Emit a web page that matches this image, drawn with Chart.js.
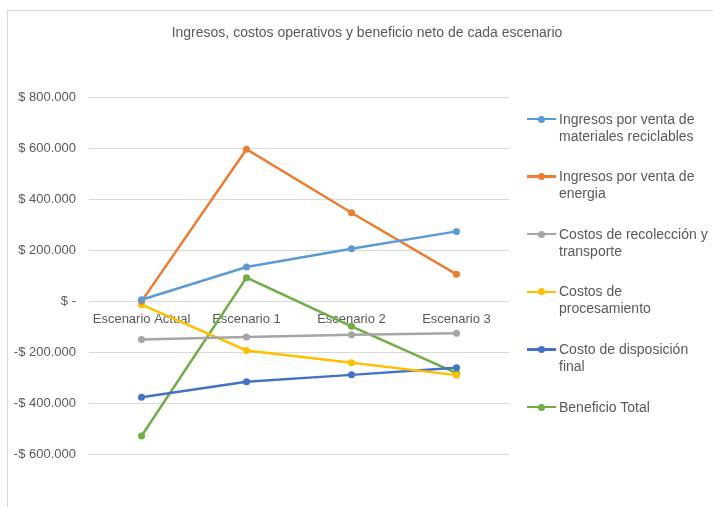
<!DOCTYPE html>
<html>
<head>
<meta charset="utf-8">
<script src="https://cdn.jsdelivr.net/npm/chart.js@4/dist/chart.umd.min.js"></script>
<style>
  html, body { margin: 0; padding: 0; background: #fff; overflow: hidden; width: 713px; height: 507px; }
  #frame { position: absolute; left: 7px; top: 10px; width: 740px; height: 520px; border: 1px solid #d9d9d9; box-sizing: border-box; }
  #wrap { position: absolute; left: 0; top: 0; width: 718px; height: 497px; }
  #legend { position: absolute; left: 0; top: 0; font-family: "Liberation Sans", Arial, sans-serif; font-size: 14px; color: #595959; }
  .item { position: absolute; left: 0; white-space: nowrap; line-height: 17px; }
  .mark { position: absolute; width: 29px; height: 2.5px; }
  .dot { position: absolute; width: 7px; height: 7px; border-radius: 50%; left: 11px; top: -2.25px; }
  .txt { position: absolute; left: 32px; top: 0; }
</style>
</head>
<body>
<div id="frame">
  <div id="wrap"><canvas id="lineChart"></canvas></div>
</div>
<div id="legend"></div>
<script>
'use strict';

// scenarios and series (values in pesos)
var categories = ['Escenario Actual', 'Escenario 1', 'Escenario 2', 'Escenario 3'];
var ingresosMateriales = [6000, 135000, 207000, 275000];
var ingresosEnergia = [0, 598000, 348000, 106000];
var costosRecoleccion = [-150000, -140000, -131000, -125000];
var costosProcesamiento = [-13000, -193000, -241000, -290000];
var costoDisposicion = [-377000, -316000, -289000, -261000];
var beneficioTotal = [-529000, 93000, -98000, -282000];

var seriesNames = [
  'Ingresos por venta de\nmateriales reciclables',
  'Ingresos por venta de\nenergia',
  'Costos de recolección y\ntransporte',
  'Costos de\nprocesamiento',
  'Costo de disposición\nfinal',
  'Beneficio Total'
];
var seriesColors = ['#5b9bd5', '#ed7d31', '#a5a5a5', '#ffc000', '#4472c4', '#70ad47'];
var yTicks = [-600000, -400000, -200000, 0, 200000, 400000, 600000, 800000];

var seriesData = [ingresosMateriales, ingresosEnergia, costosRecoleccion,
  costosProcesamiento, costoDisposicion, beneficioTotal];

var FONT = '"Liberation Sans", Arial, sans-serif';
var TEXT = '#595959';

function pesos(v) {
  if (v === 0) return '$ -';
  var s = Math.abs(v).toString().replace(/\B(?=(\d{3})+(?!\d))/g, '.');
  return (v < 0 ? '-$ ' : '$ ') + s;
}

var datasets = seriesData.map(function (d, i) {
  return {
    label: seriesNames[i].replace('\n', ' '),
    data: d,
    borderColor: seriesColors[i],
    backgroundColor: seriesColors[i],
    borderWidth: 2.5,
    pointRadius: 3.5,
    pointBorderWidth: 0,
    pointHoverRadius: 3.5,
    tension: 0
  };
});

var chart = new Chart(document.getElementById('lineChart'), {
  type: 'line',
  data: { labels: categories, datasets: datasets },
  options: {
    responsive: true,
    maintainAspectRatio: false,
    animation: false,
    layout: { padding: { left: 0, right: 0, top: 0, bottom: 54 } },
    plugins: {
      legend: { display: false },
      tooltip: { enabled: false },
      title: {
        display: true,
        text: 'Ingresos, costos operativos y beneficio neto de cada escenario',
        color: TEXT,
        font: { family: FONT, size: 14, weight: 'normal', lineHeight: 1.2 },
        padding: { top: 14, bottom: 56 }
      }
    },
    scales: {
      x: {
        position: { y: 0 },
        offset: true,
        grid: { display: false },
        border: { display: false },
        ticks: { color: TEXT, font: { family: FONT, size: 13 }, padding: 2, maxRotation: 0 }
      },
      y: {
        min: -600000,
        max: 800000,
        afterBuildTicks: function (scale) {
          scale.ticks = yTicks.map(function (v) { return { value: v }; });
        },
        afterFit: function (scale) { scale.width = 81; },
        grid: { color: '#d9d9d9', lineWidth: 1, drawTicks: false },
        border: { display: false },
        ticks: {
          color: TEXT,
          font: { family: FONT, size: 13 },
          padding: 13,
          callback: function (v) { return pesos(v); }
        }
      },
      // empty right-hand axis that keeps room for the legend
      yLegend: {
        position: 'right',
        afterFit: function (scale) { scale.width = 217; },
        grid: { display: false },
        border: { display: false },
        ticks: { display: false }
      }
    }
  }
});

// legend on the right, text wrapped on two lines
var legend = document.getElementById('legend');
seriesNames.forEach(function (name, i) {
  var item = document.createElement('div');
  item.className = 'item';
  item.style.left = '527px';
  item.style.top = (110.5 + i * 57.6) + 'px';
  var mark = document.createElement('div');
  mark.className = 'mark';
  mark.style.top = '7.25px';
  mark.style.background = seriesColors[i];
  var dot = document.createElement('div');
  dot.className = 'dot';
  dot.style.background = seriesColors[i];
  mark.appendChild(dot);
  var txt = document.createElement('div');
  txt.className = 'txt';
  txt.innerHTML = name.split('\n').join('<br>');
  item.appendChild(mark);
  item.appendChild(txt);
  legend.appendChild(item);
});
</script>
</body>
</html>
